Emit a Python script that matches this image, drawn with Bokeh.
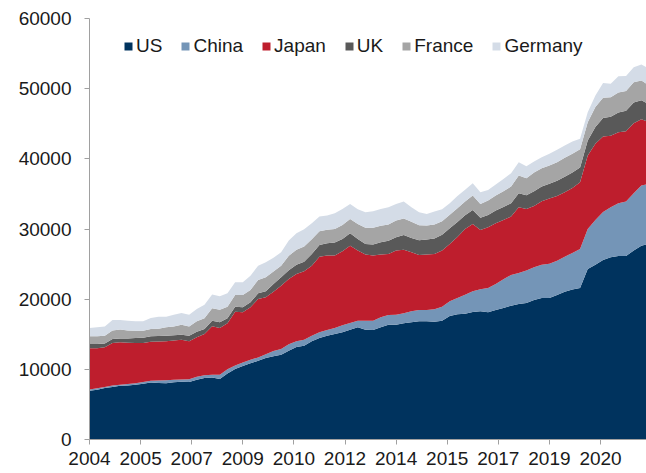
from bokeh.plotting import figure
from bokeh.models import ColumnDataSource, Range1d, FixedTicker, NumeralTickFormatter
from bokeh.embed import file_html
from bokeh.resources import INLINE

# Quarterly observations, 2004Q1 ... 2022Q2
quarters = [f"{2004 + i // 4}Q{i % 4 + 1}" for i in range(74)]

US = [6950, 7100, 7330, 7500, 7660, 7700, 7800, 7950, 8140, 8050,
      8000, 8150, 8230, 8200, 8520, 8760, 8850, 8610, 9420, 10040,
      10470, 10850, 11230, 11610, 11870, 12080, 12650, 13180, 13370, 13985,
      14460, 14790, 15030, 15270, 15650, 15980, 15650, 15600, 15980, 16360,
      16360, 16550, 16700, 16840, 16840, 16790, 16930, 17600, 17850, 17930,
      18170, 18265, 18120, 18455, 18740, 19070, 19310, 19450, 19880, 20170,
      20170, 20600, 21070, 21360, 21590, 24300, 24920, 25590, 25970, 26160,
      26160, 26920, 27630, 27870]
China = [190, 200, 170, 180, 140, 200, 200, 250, 230, 350,
         450, 350, 330, 400, 430, 390, 380, 620, 580, 510,
         520, 500, 470, 540, 730, 810, 910, 805, 850, 805,
         810, 810, 860, 1000, 950, 950, 1280, 1330, 1430, 1380,
         1430, 1430, 1565, 1615, 1615, 1760, 2000, 2090, 2300, 2710,
         2950, 3135, 3470, 3705, 4090, 4380, 4420, 4620, 4660, 4750,
         4895, 4890, 4990, 5230, 5570, 5710, 6370, 6845, 7130, 7510,
         7750, 8180, 8560, 8560]
Japan = [5850, 5690, 5630, 6070, 6050, 5880, 5750, 5550, 5570, 5570,
         5540, 5600, 5660, 5390, 5610, 5880, 6900, 6660, 6550, 7670,
         7130, 7490, 8320, 8110, 8450, 9030, 9320, 9605, 9750, 9990,
         10790, 10610, 10320, 10555, 11030, 9990, 9420, 9280, 8940, 8700,
         9130, 9080, 8415, 7845, 7895, 7890, 7990, 8180, 8700, 9370,
         9600, 8470, 8660, 8660, 8460, 8320, 9370, 8790, 8750, 9040,
         9275, 9230, 9180, 9270, 9510, 10460, 10845, 10745, 10180, 10130,
         10030, 9980, 9460, 8800]
UK = [620, 610, 560, 560, 560, 620, 700, 750, 760, 780,
      800, 770, 720, 800, 800, 720, 800, 810, 720, 710,
      720, 710, 810, 860, 1100, 1190, 1250, 1300, 1350, 1650,
      1670, 1750, 1850, 1750, 1760, 1660, 1520, 1570, 1760, 1900,
      1900, 2100, 2050, 2100, 2150, 2200, 2250, 2250, 2150, 1950,
      2000, 1750, 1750, 1800, 1850, 1900, 2000, 1950, 2100, 2100,
      2100, 2150, 2200, 2200, 2100, 2150, 2400, 2650, 2700, 2800,
      2900, 2950, 2700, 2550]
France = [1090, 1100, 1100, 1240, 1250, 1150, 1050, 1010, 1040, 1050,
          1190, 1230, 1400, 1330, 1480, 1530, 1770, 1800, 1660, 1670,
          1760, 1760, 1910, 1990, 1800, 1670, 2050, 2150, 2200, 2100,
          1950, 1950, 1950, 2000, 2050, 2140, 2300, 2400, 2350, 2300,
          2400, 2350, 2300, 2150, 2000, 2000, 1950, 1900, 1950, 1950,
          2050, 1960, 2050, 2150, 2240, 2380, 2520, 2430, 2660, 2600,
          2600, 2650, 2700, 2650, 2600, 2610, 2835, 2870, 2810, 2860,
          2810, 2900, 2820, 2680]
Germany = [1190, 1280, 1310, 1480, 1370, 1380, 1340, 1330, 1570, 1700,
           1520, 1690, 1690, 1670, 1760, 1940, 1950, 1910, 1900, 1800,
           1800, 2040, 2040, 2150, 1950, 1900, 2170, 2350, 2440, 2290,
           2090, 2000, 2235, 2285, 2140, 2095, 2220, 2350, 2400, 2460,
           2360, 2400, 2070, 1840, 1650, 1840, 1695, 1650, 1750, 1700,
           1750, 1660, 1520, 1565, 1760, 1900, 1900, 1710, 1570, 1570,
           1670, 1760, 1760, 1760, 1480, 1420, 1660, 2090, 1900, 2300,
           2140, 2140, 2280, 2370]

series_names = ["US", "China", "Japan", "UK", "France", "Germany"]
series_colors = ["#00335E", "#7495B7", "#BE1E2D", "#595959", "#A5A5A5", "#D4DCE7"]

x_tick_labels = ["2004", "2005", "2007", "2009", "2010", "2012",
                 "2014", "2015", "2017", "2019", "2020"]
x_tick_step_months = 20
y_ticks = [0, 10000, 20000, 30000, 40000, 50000, 60000]

# month index from Jan 2004
months = [12 * (int(q[:4]) - 2004) + 3 * (int(q[-1]) - 1) for q in quarters]
tick_months = [i * x_tick_step_months for i in range(len(x_tick_labels))]

src = ColumnDataSource(dict(x=months, US=US, China=China, Japan=Japan,
                            UK=UK, France=France, Germany=Germany))

p = figure(width=646, height=473, output_backend="svg", toolbar_location=None,
           x_range=Range1d(0, 218.0), y_range=Range1d(0, 60000),
           min_border_left=89, min_border_right=0, min_border_top=18,
           min_border_bottom=34)
p.outline_line_color = None
p.grid.visible = False
p.background_fill_color = "white"

p.varea_stack(stackers=series_names, x="x", color=series_colors, source=src,
              legend_label=series_names)

for ax in (p.xaxis[0], p.yaxis[0]):
    ax.axis_line_color = "#A0A0A0"
    ax.major_tick_line_color = "#A0A0A0"
    ax.minor_tick_line_color = None
    ax.major_tick_out = 5
    ax.major_tick_in = 0
    ax.major_label_text_font = "Liberation Sans"
    ax.major_label_text_font_size = "19px"
    ax.major_label_text_color = "#1a1a1a"

p.xaxis.ticker = FixedTicker(ticks=tick_months)
p.xaxis.major_label_overrides = {m: lab for m, lab in zip(tick_months, x_tick_labels)}
p.xaxis.major_label_standoff = 7
p.yaxis.ticker = FixedTicker(ticks=y_ticks)
p.yaxis.formatter = NumeralTickFormatter(format="0")
p.yaxis.major_label_standoff = 13

lg = p.legend[0]
lg.orientation = "horizontal"
lg.location = (34, 382)
lg.border_line_color = None
lg.background_fill_alpha = 0
lg.label_text_font = "Liberation Sans"
lg.label_text_font_size = "19px"
lg.label_text_color = "#1a1a1a"
lg.glyph_width = 10
lg.glyph_height = 10
lg.label_standoff = 3
lg.spacing = 18
lg.padding = 0
lg.margin = 0

open("out.html", "w").write(file_html(p, INLINE))
